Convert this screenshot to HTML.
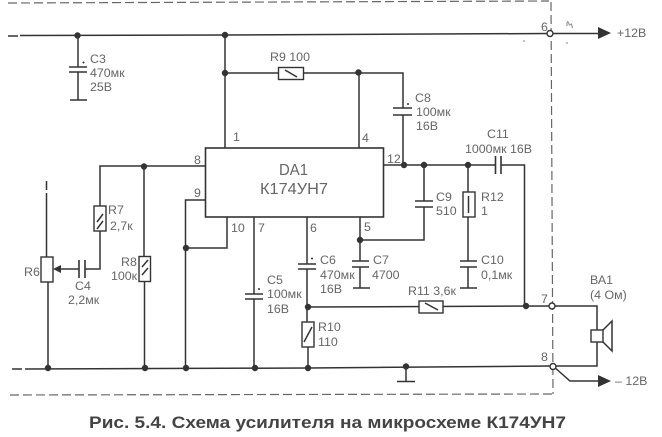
<!DOCTYPE html>
<html><head><meta charset="utf-8"><style>
html,body{margin:0;padding:0;background:#fff}
svg{display:block;filter:blur(0.35px)}
text{font-family:"Liberation Sans",sans-serif;font-size:12.400px;fill:#666}
.w{stroke:#333;stroke-width:1.5;fill:none}
.p{stroke:#333;stroke-width:1.6;fill:none}
.b{stroke:#333;stroke-width:1.4;fill:#fff}
.d{stroke:#666;stroke-width:1.2;fill:none;stroke-dasharray:9 4}
.n{fill:#333}
.o{fill:#fff;stroke:#333;stroke-width:1.4}
</style></head><body>
<svg width="662" height="437" viewBox="0 0 662 437" xmlns="http://www.w3.org/2000/svg">
<!-- dashed frame -->
<path class="d" d="M8 3L549 1M10 395L553 394M551 2L553 394"/>
<!-- rails -->
<path class="w" d="M8 36h10" />
<path class="w" d="M20 35.5L225 35L550 33.5M550 33.5H600"/>
<path class="w" d="M12 369h10M25 369L308 368L552 366H597V306H552L308 307"/>
<path class="w" d="M553 366L570 381H600"/>
<polygon class="n" points="598,27 611,33 598,39"/>
<polygon class="n" points="598,375 611,381 598,387"/>
<!-- C3 -->
<path class="w" d="M78 35V67M78 72V100"/>
<path class="p" d="M69 67H87M69 72H87M70 100H87"/>
<!-- Vertical 1 and R9 -->
<path class="w" d="M225 35V148M225 73H278M303 73H403V108M403 115V165M359 72V148"/>
<rect class="b" x="278.500" y="67.500" width="25" height="12"/>
<path class="w" d="M285 70L297 77"/>
<path class="p" d="M393 108H412M393 115H412"/>
<!-- IC -->
<rect x="205.500" y="148" width="178" height="69" fill="#fff" stroke="#333" stroke-width="1.6"/>
<!-- output -->
<path class="w" d="M384 165H495M501 165H524.500V306"/>
<path class="p" d="M495.500 156V174M501 156V174"/>
<path class="w" d="M424 165V201M424 207V240H360M468 165V192M468 217V261M468 267V288"/>
<path class="p" d="M415 201H433M415 207H433M460 261H477M460 267H477M460 288H477"/>
<rect class="b" x="463" y="192" width="12" height="25"/>
<path class="w" d="M468.500 196V213"/>
<!-- input -->
<path class="w" d="M46.500 181V190M46.500 193V257M48 282V368M205 166H100V206M144 166V256M144.500 281V368M100 230V269H85M79 269H60"/>
<polygon class="n" points="53,269 61,265 61,273"/>
<path class="p" d="M79 260V278M85 260V278"/>
<rect class="b" x="41" y="257" width="12" height="25"/>
<rect class="b" x="94" y="206" width="12" height="25"/>
<path class="w" d="M97 222L103 214M97 229L103 221"/>
<rect class="b" x="139" y="256.500" width="11.500" height="25"/>
<path class="w" d="M142 267L148 260M142 275L148 268"/>
<!-- 9, 10 -->
<path class="w" d="M205 200H185.500V368M227 217V248H186"/>
<!-- 7 -->
<path class="w" d="M254 217V294M254 299V368"/>
<path class="p" d="M245 294H263M245 299H263"/>
<!-- 6 -->
<path class="w" d="M307 217V264M307 269V322M308 347V368"/>
<path class="p" d="M298 264H316M298 269H316"/>
<rect class="b" x="302" y="322" width="12" height="25"/>
<path class="w" d="M304 342L312 327"/>
<!-- 5 / C7 -->
<path class="w" d="M360 217V261M360 267V288"/>
<path class="p" d="M352 261H369M352 267H369M353 288H370"/>
<!-- R11 -->
<rect class="b" x="419" y="301" width="24" height="12"/>
<path class="w" d="M425 303L438 310"/>
<!-- ground -->
<path class="w" d="M406 367V381"/>
<path class="p" d="M397 381.500H415"/>
<!-- speaker -->
<rect class="b" x="591" y="330" width="12" height="12"/>
<path class="w" d="M603 330L612 321V351L603 342"/>
<!-- polarity marks and specks -->
<path class="w" style="stroke-width:1" d="M82.500 62.500h2M83.500 61.500v2M407 104h2M408 103v2M258 289h2M259 288v2M311 258.500h2M312 257.500v2"/>
<path stroke="#999" stroke-width="1.2" fill="none" d="M567 22v4M524 40v2M567 42v2M567.500 21l2 4l2 -1l1 4"/>
<!-- nodes -->
<g class="n">
<circle cx="77.500" cy="35.500" r="3.200"/><circle cx="225" cy="35" r="3.200"/><circle cx="225" cy="73" r="3.200"/>
<circle cx="358.500" cy="72.500" r="3.200"/><circle cx="404" cy="165" r="3.200"/><circle cx="424" cy="165" r="3.200"/><circle cx="468" cy="165" r="3.200"/>
<circle cx="144" cy="166.500" r="3.200"/><circle cx="186" cy="248" r="3.200"/><circle cx="360" cy="240" r="3.200"/><circle cx="308" cy="307" r="3.200"/><circle cx="526" cy="306" r="3.200"/>
<circle cx="48" cy="368" r="3.200"/><circle cx="145" cy="368" r="3.200"/><circle cx="186" cy="368" r="3.200"/><circle cx="255" cy="368" r="3.200"/><circle cx="308" cy="368" r="3.200"/><circle cx="406" cy="366.500" r="3.200"/>
</g>
<circle class="o" cx="550" cy="33.500" r="3"/><circle class="o" cx="552" cy="306" r="3"/><circle class="o" cx="553" cy="366.500" r="3"/>
<!-- labels -->
<text x="90" y="63">C3</text><text x="90" y="77">470мк</text><text x="90" y="91">25В</text>
<text x="270" y="61">R9 100</text>
<text x="233" y="141">1</text><text x="362" y="142">4</text><text x="194" y="164">8</text><text x="194" y="197">9</text>
<text x="387" y="163">12</text>
<text x="231" y="232">10</text><text x="258" y="232">7</text><text x="310" y="232">6</text><text x="364" y="231">5</text>
<text x="279" y="175" textLength="29" lengthAdjust="spacingAndGlyphs" style="font-size:16px">DA1</text>
<text x="260" y="194" textLength="68" lengthAdjust="spacingAndGlyphs" style="font-size:16px">К174УН7</text>
<text x="415" y="102">C8</text><text x="416" y="116">100мк</text><text x="416" y="130">16В</text>
<text x="487" y="138">C11</text><text x="465" y="153">1000мк 16В</text>
<text x="436" y="201">C9</text><text x="436" y="215">510</text>
<text x="481" y="201">R12</text><text x="481" y="215">1</text>
<text x="481" y="264">C10</text><text x="481" y="279">0,1мк</text>
<text x="108" y="214">R7</text><text x="110" y="230">2,7к</text>
<text x="24" y="276">R6</text>
<text x="75" y="290">C4</text><text x="68" y="304">2,2мк</text>
<text x="121" y="266">R8</text><text x="111" y="280">100к</text>
<text x="267" y="284">C5</text><text x="267" y="298">100мк</text><text x="267" y="313">16В</text>
<text x="320" y="264">C6</text><text x="320" y="279">470мк</text><text x="320" y="293">16В</text>
<text x="373" y="264">C7</text><text x="372" y="279">4700</text>
<text x="318" y="331">R10</text><text x="318" y="346">110</text>
<text x="408" y="295">R11 3,6к</text>
<text x="590" y="284">ВА1</text><text x="590" y="299">(4 Ом)</text>
<text x="541" y="31">6</text><text x="541" y="303">7</text><text x="541" y="361">8</text>
<text x="617" y="37">+12В</text><text x="615" y="385">– 12В</text>
<text x="89" y="428" textLength="477" lengthAdjust="spacingAndGlyphs" style="font-size:17px;font-weight:bold;fill:#444">Рис. 5.4. Схема усилителя на микросхеме К174УН7</text>
</svg>
</body></html>
